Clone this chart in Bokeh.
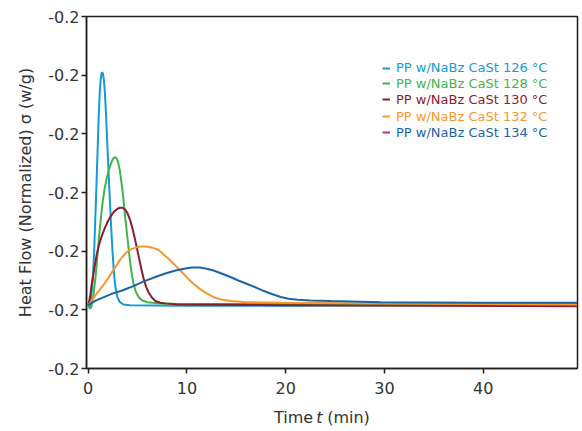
from bokeh.plotting import figure
from bokeh.models import Range1d, FixedTicker, PrintfTickFormatter, Legend, LegendItem
from bokeh.layouts import column
from bokeh.core.properties import value
from bokeh.embed import file_html
from bokeh.resources import INLINE

# ---- data (time in min, normalized heat flow in W/g) ----
t_126 = [0, 0.1, 0.2, 0.3, 0.4, 0.5, 0.6, 0.7, 0.81, 0.95, 1.07, 1.17, 1.26, 1.34, 1.42, 1.5, 1.59, 1.68, 1.77,
         1.86, 1.95, 2.05, 2.16, 2.3, 2.45, 2.6, 2.75, 2.95, 3.2, 3.6, 4.2, 10, 20, 30, 40, 49.5]
hf_126 = [-0.2092, -0.2095, -0.2093, -0.2076, -0.2062, -0.2038, -0.2003, -0.1955, -0.1902, -0.1830, -0.1768,
          -0.1730, -0.1709, -0.1698, -0.1695, -0.1698, -0.1708, -0.1727, -0.1754, -0.1787, -0.1822, -0.1860,
          -0.1900, -0.1950, -0.1997, -0.2035, -0.2060, -0.2078, -0.2087, -0.2091, -0.2092, -0.2093, -0.2093,
          -0.2092, -0.2092, -0.2092]

t_128 = [0, 0.1, 0.2, 0.3, 0.45, 0.6, 0.75, 0.9, 1.05, 1.24, 1.45, 1.65, 1.85, 2.05, 2.26, 2.45, 2.6, 2.76, 2.9,
         3.05, 3.2, 3.35, 3.5, 3.65, 3.8, 3.96, 4.12, 4.29, 4.45, 4.62, 4.8, 5.0, 5.25, 5.5, 6.0, 6.5, 7.5, 9,
         20, 30, 40, 49.5]
hf_128 = [-0.2092, -0.2096, -0.2098, -0.2096, -0.2085, -0.2065, -0.2043, -0.2015, -0.1985, -0.1951, -0.1918,
          -0.1895, -0.1878, -0.1864, -0.1853, -0.1845, -0.1841, -0.1840, -0.1842, -0.1850, -0.1862, -0.1880,
          -0.1900, -0.1925, -0.1950, -0.1975, -0.2000, -0.2024, -0.2043, -0.2057, -0.2068, -0.2075, -0.2081,
          -0.2084, -0.2087, -0.2088, -0.2089, -0.2090, -0.2090, -0.2090, -0.2090, -0.2090]

t_130 = [0, 0.1, 0.2, 0.35, 0.5, 0.7, 0.91, 1.15, 1.4, 1.7, 2.0, 2.3, 2.6, 2.94, 3.2, 3.47, 3.75, 4.0, 4.25, 4.45,
         4.65, 4.85, 5.09, 5.35, 5.6, 5.85, 6.11, 6.45, 6.8, 7.3, 7.83, 9, 20, 35, 49.5]
hf_130 = [-0.2092, -0.2086, -0.2076, -0.2058, -0.2042, -0.2021, -0.2002, -0.1986, -0.1973, -0.1960, -0.1949,
          -0.1940, -0.1933, -0.1928, -0.1926, -0.1926, -0.1929, -0.1936, -0.1947, -0.1959, -0.1973, -0.1988,
          -0.2007, -0.2028, -0.2046, -0.2060, -0.2070, -0.2079, -0.2085, -0.2088, -0.2089, -0.2091, -0.2092,
          -0.2093, -0.2094]

t_132 = [0, 0.4, 0.73, 1.2, 1.75, 2.25, 2.76, 3.25, 3.77, 4.3, 4.79, 5.35, 5.9, 6.5, 7.12, 7.6, 8.13, 8.8, 9.5,
         10.3, 11.2, 12.0, 12.8, 13.6, 14.5, 16, 19.5, 30, 49.5]
hf_132 = [-0.2092, -0.2084, -0.2075, -0.2065, -0.2053, -0.2040, -0.2027, -0.2014, -0.2004, -0.1997, -0.1994,
          -0.1992, -0.1992, -0.1994, -0.1998, -0.2005, -0.2013, -0.2024, -0.2036, -0.2050, -0.2063, -0.2072,
          -0.2079, -0.2083, -0.2085, -0.2087, -0.2088, -0.2089, -0.2091]

t_134 = [0, 0.8, 1.65, 2.5, 3.44, 4.5, 5.7, 6.81, 7.8, 8.85, 9.7, 10.5, 11.3, 12.0, 12.7, 13.5, 14.4, 15.2, 16.1,
         17.0, 17.8, 18.6, 19.5, 20.3, 21.2, 22.5, 24.6, 29.6, 39.8, 49.5]
hf_134 = [-0.2092, -0.2084, -0.2078, -0.2072, -0.2067, -0.2060, -0.2051, -0.2044, -0.2038, -0.2033, -0.2030,
          -0.2028, -0.2028, -0.2030, -0.2033, -0.2038, -0.2044, -0.2050, -0.2056, -0.2062, -0.2068, -0.2073,
          -0.2078, -0.2081, -0.2083, -0.2084, -0.2085, -0.2087, -0.2088, -0.2088]

labels = ["PP w/NaBz CaSt 126 °C", "PP w/NaBz CaSt 128 °C", "PP w/NaBz CaSt 130 °C",
          "PP w/NaBz CaSt 132 °C", "PP w/NaBz CaSt 134 °C"]
colors = ["#129bd8", "#3fb54b", "#8b1d2e", "#f7972c", "#1a64a6"]
legend_line_colors = ["#129bd8", "#3fb54b", "#8b1d2e", "#f7972c", "#b1309a"]

y_ticks = [-0.22, -0.21, -0.20, -0.19, -0.18, -0.17, -0.16]
x_ticks = [0, 10, 20, 30, 40]

FONT = "DejaVu Sans"
TXT = "#333333"
NAN = float("nan")

p = figure(width=582, height=400, output_backend="svg", toolbar_location=None,
           x_range=Range1d(-0.17, 49.55), y_range=Range1d(-0.22, -0.16),
           min_border_left=86, min_border_right=5, min_border_top=16, min_border_bottom=32)
p.grid.visible = False
p.outline_line_color = "#231f20"
p.outline_line_width = 1.5
p.outline_line_alpha = 1.0
p.background_fill_color = "white"
p.border_fill_color = "white"

for ax in (p.xaxis[0], p.yaxis[0]):
    ax.axis_line_color = "#231f20"
    ax.axis_line_width = 1.5
    ax.major_tick_line_color = "#231f20"
    ax.major_tick_line_width = 1.5
    ax.major_tick_out = 5
    ax.major_tick_in = 0
    ax.minor_tick_line_color = None
    ax.major_label_text_font = FONT
    ax.major_label_text_font_size = "16px"
    ax.major_label_text_color = TXT

p.xaxis.ticker = FixedTicker(ticks=x_ticks)
p.yaxis.ticker = FixedTicker(ticks=y_ticks)
p.yaxis.formatter = PrintfTickFormatter(format="%.1f")
p.yaxis.major_label_standoff = 2
p.xaxis.major_label_standoff = 8

p.yaxis.axis_label = "Heat Flow (Normalized) σ (w/g)"
p.yaxis.axis_label_text_font = FONT
p.yaxis.axis_label_text_font_size = "16px"
p.yaxis.axis_label_text_font_style = "normal"
p.yaxis.axis_label_text_color = TXT
p.yaxis.axis_label_standoff = 10

series = [(t_126, hf_126), (t_128, hf_128), (t_130, hf_130), (t_132, hf_132), (t_134, hf_134)]
for (t, hf), c in zip(series, colors):
    p.line(t, hf, line_color=c, line_width=2)

# legend: one per item so each label keeps its own colour
tops = [43.7, 59.3, 75.3, 92.0, 108.0]
for lab, lc, tc, top in zip(labels, legend_line_colors, colors, tops):
    dummy = p.line([NAN], [NAN], line_color=lc, line_width=2)
    lg = Legend(items=[LegendItem(label=lab, renderers=[dummy])],
                location=(296, 352 - top - 16), orientation="vertical",
                padding=0, margin=0, spacing=0,
                glyph_width=8, glyph_height=16, label_height=16, label_standoff=6,
                label_text_font=FONT, label_text_font_size="13px", label_text_color=tc,
                background_fill_alpha=0, border_line_alpha=0)
    p.add_layout(lg)

# x-axis title strip (with italic t)
p2 = figure(width=582, height=31, output_backend="svg", toolbar_location=None,
            x_range=p.x_range, y_range=Range1d(0, 1), x_axis_type=None, y_axis_type=None,
            min_border_left=86, min_border_right=5, min_border_top=0, min_border_bottom=0)
p2.grid.visible = False
p2.outline_line_color = None
ylab = 0.45
p2.text(x=[22.78], y=[ylab], text=["Time"], text_align="right", text_baseline="middle",
        text_font=value(FONT), text_font_size="16px", text_color=TXT)
p2.text(x=[23.42], y=[ylab], text=["t"], text_align="center", text_baseline="middle",
        text_font=value(FONT), text_font_size="16px", text_font_style="italic", text_color=TXT)
p2.text(x=[24.2], y=[ylab], text=["(min)"], text_align="left", text_baseline="middle",
        text_font=value(FONT), text_font_size="16px", text_color=TXT)

layout = column(p, p2, spacing=0)
open("out.html", "w").write(file_html(layout, INLINE))
